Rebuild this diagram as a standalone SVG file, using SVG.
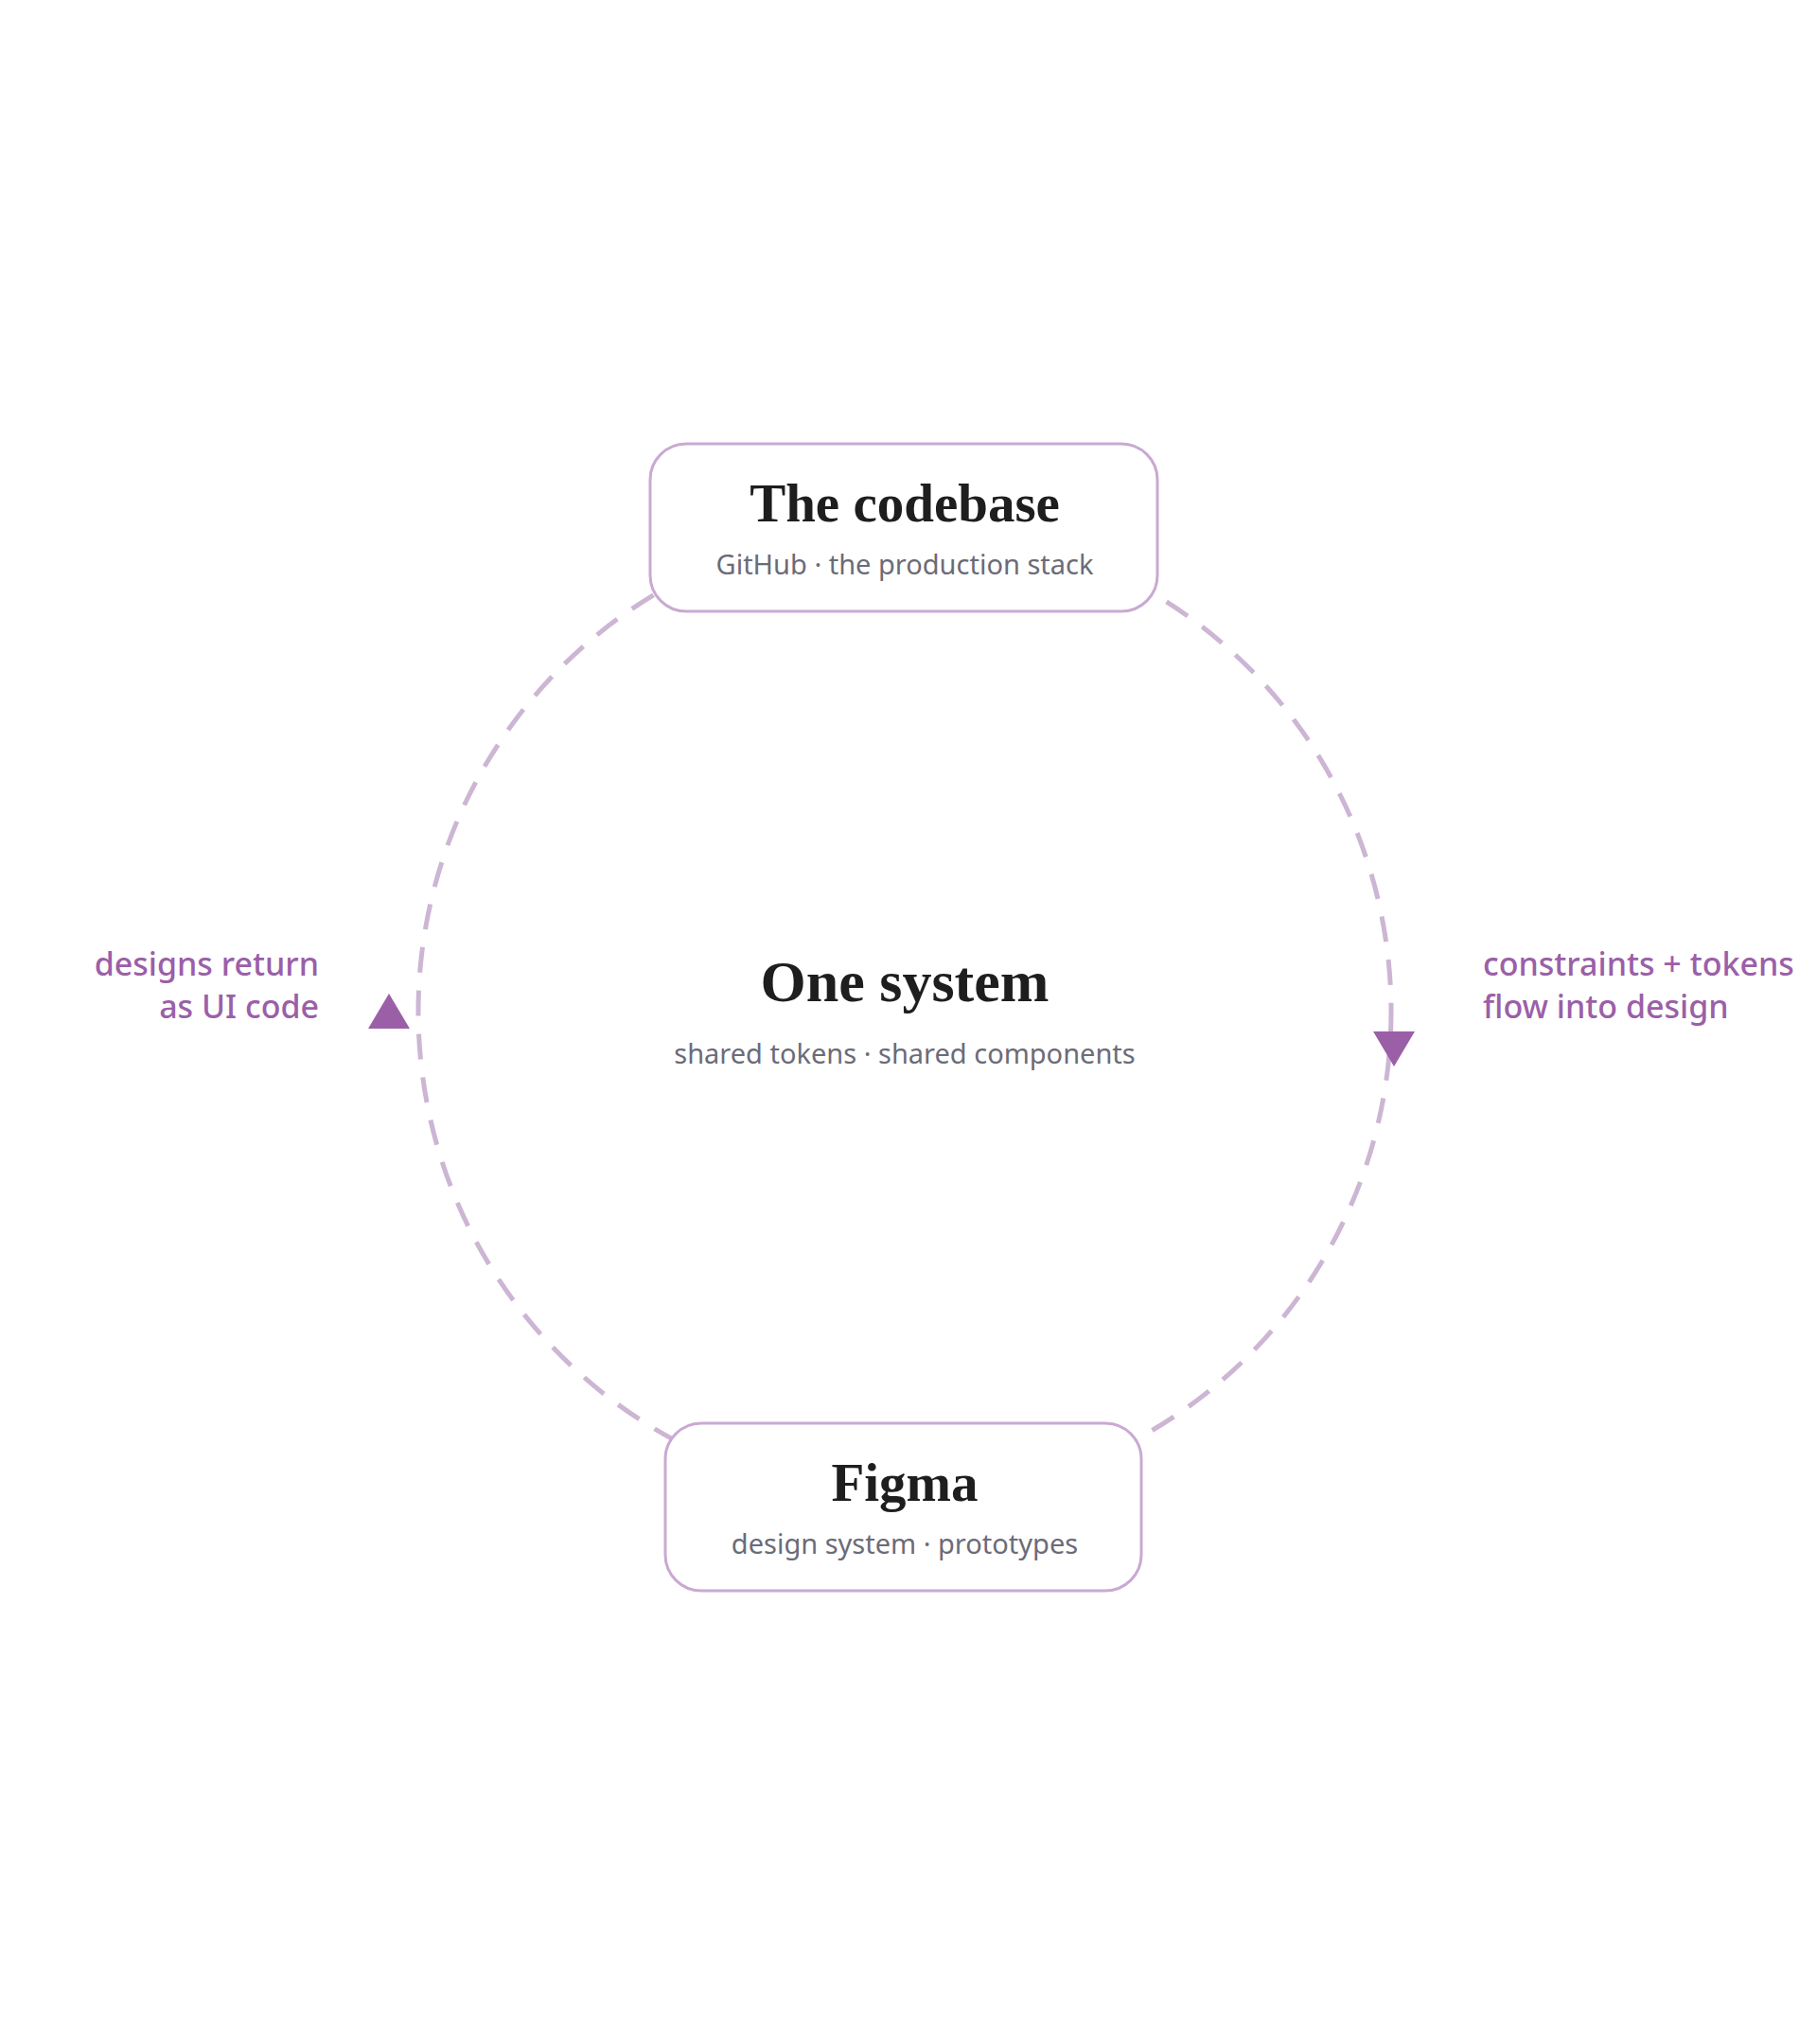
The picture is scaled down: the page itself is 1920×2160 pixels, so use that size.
<svg xmlns="http://www.w3.org/2000/svg" width="1920" height="2160" viewBox="0 0 1920 2160">
<style>
.box{fill:#fff;stroke:#c9a9d3;stroke-width:3}
.t{font-family:"Liberation Serif","DejaVu Serif",serif;font-weight:bold;fill:#1e1e1e;text-anchor:middle}
.s{font-family:"Noto Sans","Open Sans",sans-serif;fill:#6b6b78;font-size:29px;text-anchor:middle}
.l{font-family:"Noto Sans","Open Sans",sans-serif;fill:#9b5fa8;font-size:34px;font-weight:500}
.ring{fill:none;stroke:#cdb5d4;stroke-width:5;stroke-dasharray:27 19}
.arr{fill:#9b5fa8}
</style>
<rect width="1920" height="2160" fill="#fff"/>
<g id="connectors">
<circle class="ring" cx="956" cy="1069" r="514"/>
<polygon class="arr" points="1451,1090 1495,1090 1473,1127"/>
<polygon class="arr" points="389,1087 433,1087 411,1050"/>
<text class="l" x="337" y="1031" text-anchor="end">designs return</text>
<text class="l" x="337" y="1076" text-anchor="end">as UI code</text>
<text class="l" x="1567" y="1031">constraints + tokens</text>
<text class="l" x="1567" y="1076">flow into design</text>
</g>
<g id="center">
<text class="t" x="956" y="1058" font-size="62">One system</text>
<text class="s" x="956" y="1124">shared tokens · shared components</text>
</g>
<g id="codebase">
<rect class="box" x="687" y="469" width="536" height="177" rx="38"/>
<text class="t" x="956" y="551" font-size="57">The codebase</text>
<text class="s" x="956" y="607">GitHub · the production stack</text>
</g>
<g id="figma">
<rect class="box" x="703" y="1504" width="503" height="177" rx="38"/>
<text class="t" x="956" y="1586" font-size="57">Figma</text>
<text class="s" x="956" y="1642">design system · prototypes</text>
</g>
</svg>
